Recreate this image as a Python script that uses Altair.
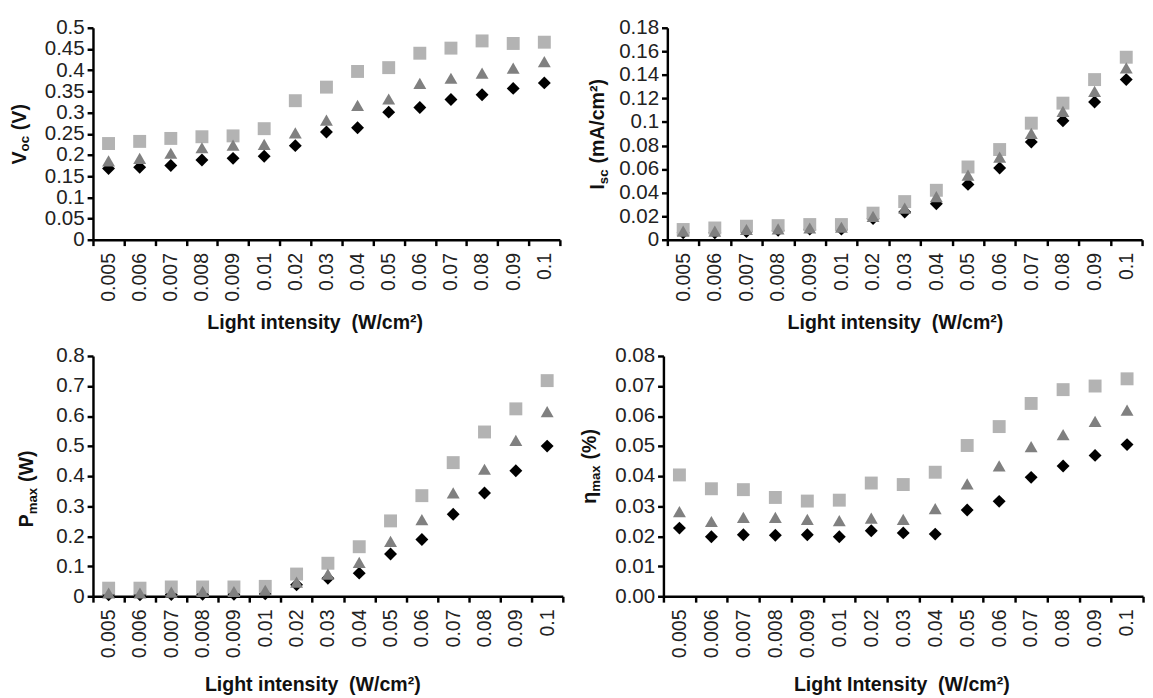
import altair as alt
import pandas as pd

# ---------------- data ----------------
categories = ["0.005", "0.006", "0.007", "0.008", "0.009", "0.01", "0.02", "0.03",
              "0.04", "0.05", "0.06", "0.07", "0.08", "0.09", "0.1"]

voc_square = [0.227, 0.232, 0.239, 0.243, 0.245, 0.262, 0.328, 0.360, 0.397, 0.406,
              0.440, 0.452, 0.469, 0.463, 0.466]
voc_triangle = [0.186, 0.192, 0.204, 0.217, 0.223, 0.225, 0.252, 0.282, 0.317, 0.332,
                0.369, 0.381, 0.393, 0.405, 0.420]
voc_diamond = [0.168, 0.171, 0.175, 0.188, 0.192, 0.197, 0.222, 0.254, 0.264, 0.301,
               0.312, 0.331, 0.342, 0.357, 0.370]

isc_square = [0.0087, 0.010, 0.0115, 0.012, 0.0129, 0.0129, 0.0226, 0.0324, 0.042, 0.0618,
              0.0766, 0.099, 0.116, 0.136, 0.155]
isc_triangle = [0.0073, 0.0073, 0.0087, 0.0092, 0.010, 0.0106, 0.0198, 0.0268, 0.0366, 0.0548,
                0.0702, 0.0903, 0.109, 0.126, 0.146]
isc_diamond = [0.006, 0.006, 0.007, 0.008, 0.009, 0.009, 0.018, 0.0235, 0.0305, 0.047,
               0.061, 0.083, 0.101, 0.117, 0.136]

pmax_square = [0.027, 0.027, 0.031, 0.031, 0.031, 0.033, 0.074, 0.110, 0.165, 0.251,
               0.335, 0.445, 0.547, 0.624, 0.718]
pmax_triangle = [0.011, 0.011, 0.014, 0.016, 0.016, 0.020, 0.047, 0.074, 0.113, 0.183,
                 0.255, 0.344, 0.423, 0.519, 0.615]
pmax_diamond = [0.005, 0.005, 0.006, 0.007, 0.007, 0.008, 0.038, 0.060, 0.077, 0.141,
                0.189, 0.273, 0.344, 0.418, 0.500]

eta_square = [0.0404, 0.0358, 0.0355, 0.0329, 0.0317, 0.0320, 0.0377, 0.0372, 0.0413, 0.0502,
              0.0565, 0.0642, 0.0688, 0.0700, 0.0724]
eta_triangle = [0.0282, 0.0249, 0.0263, 0.0263, 0.0256, 0.0252, 0.0260, 0.0256, 0.0292, 0.0374,
                0.0434, 0.0498, 0.0538, 0.0582, 0.0620]
eta_diamond = [0.0227, 0.0198, 0.0205, 0.0203, 0.0205, 0.0198, 0.0218, 0.0211, 0.0207, 0.0287,
               0.0316, 0.0396, 0.0434, 0.0469, 0.0505]

voc_ticks = [0, 0.05, 0.1, 0.15, 0.2, 0.25, 0.3, 0.35, 0.4, 0.45, 0.5]
isc_ticks = [0, 0.02, 0.04, 0.06, 0.08, 0.1, 0.12, 0.14, 0.16, 0.18]
pmax_ticks = [0, 0.1, 0.2, 0.3, 0.4, 0.5, 0.6, 0.7, 0.8]
eta_ticks = [0, 0.01, 0.02, 0.03, 0.04, 0.05, 0.06, 0.07, 0.08]

series_order = ["diamond", "square", "triangle"]
series_shapes = ["diamond", "square", "triangle-up"]
series_colors = ["#000000", "#b3b3b3", "#808080"]

FONT = "Liberation Sans"

# Arial-bold advance widths (em) used to lay out the rotated y titles
ADV = {'V': 0.667, 'o': 0.611, 'c': 0.556, ' ': 0.278, '(': 0.333,
       ')': 0.333, 'I': 0.278, 's': 0.556, 'm': 0.889, 'A': 0.722, '/': 0.278,
       '\u00b2': 0.333, 'P': 0.667, 'a': 0.556, 'x': 0.556, 'W': 0.944, '%': 0.889,
       '\u03b7': 0.611}


def text_width(s, size):
    return sum(ADV.get(ch, 0.556) for ch in s) * size


def long_df(dia, sq, tri):
    rows = []
    for name, vals in zip(series_order, (dia, sq, tri)):
        for c, v in zip(categories, vals):
            rows.append({"cat": c, "series": name, "value": v})
    return pd.DataFrame(rows)


def panel(df, title_parts, x_title, y_max, y_ticks, y_fmt, width, height,
          title_x, title_cy, title_pad=12, xtitle_dx=0):
    x = alt.X("cat:N", sort=categories,
              scale=alt.Scale(type="band", paddingInner=0, paddingOuter=0),
              axis=alt.Axis(title=x_title, labelAngle=270, tickBand="extent",
                            labelPadding=7, titlePadding=title_pad, labelFontSize=20,
                            titleX=width / 2 + xtitle_dx))
    y = alt.Y("value:Q",
              scale=alt.Scale(domain=[0, y_max], nice=False, zero=True),
              axis=alt.Axis(title=None, values=y_ticks, format=y_fmt,
                            labelPadding=3, labelFontSize=21))
    pts = alt.Chart(df).mark_point(filled=True, size=175, opacity=1,
                                   strokeWidth=0).encode(
        x=x, y=y,
        shape=alt.Shape("series:N",
                        scale=alt.Scale(domain=series_order, range=series_shapes),
                        legend=None),
        color=alt.Color("series:N",
                        scale=alt.Scale(domain=series_order, range=series_colors),
                        legend=None),
    )
    layers = [pts]
    one = pd.DataFrame({"k": [0]})
    total = sum(text_width(t, s) + gap for t, s, _, gap in title_parts)
    y0 = title_cy + total / 2
    cum = 0.0
    for t, s, dx, gap in title_parts:
        layers.append(
            alt.Chart(one).mark_text(text=t, angle=270, align="left",
                                     baseline="alphabetic", font=FONT,
                                     fontSize=s, fontWeight="bold",
                                     color="#111111").encode(
                x=alt.value(title_x + dx), y=alt.value(y0 - cum))
        )
        cum += text_width(t, s) + gap
    return alt.layer(*layers).properties(width=width, height=height)


MAIN = 20
SUB = 13.5
GAP = 6

tl = panel(long_df(voc_diamond, voc_square, voc_triangle),
           [("V", MAIN, 0, 0), ("oc", SUB, 4, GAP), ("(V)", MAIN, 0, 0)],
           "Light intensity\u00a0 (W/cm\u00b2)", 0.5, voc_ticks, ".2~f",
           478, 217, -69, 109, xtitle_dx=-12)
tr = panel(long_df(isc_diamond, isc_square, isc_triangle),
           [("I", MAIN, 0, 0), ("sc", SUB, 4, GAP), ("(mA/cm\u00b2)", MAIN, 0, 0)],
           "Light intensity\u00a0 (W/cm\u00b2)", 0.18, isc_ticks, ".2~f",
           486, 217, -65, 109, xtitle_dx=-10)
bl = panel(long_df(pmax_diamond, pmax_square, pmax_triangle),
           [("P", MAIN, 0, 0), ("max", SUB, 4, GAP), ("(W)", MAIN, 0, 0)],
           "Light intensity\u00a0 (W/cm\u00b2)", 0.8, pmax_ticks, ".1~f",
           481, 246, -61, 136, title_pad=17, xtitle_dx=-16)
br = panel(long_df(eta_diamond, eta_square, eta_triangle),
           [("\u03b7", MAIN, 0, 0), ("max", SUB, 4, GAP), ("(%)", MAIN, 0, 0)],
           "Light Intensity\u00a0 (W/cm\u00b2)", 0.08, eta_ticks, ".2f",
           491, 246, -69, 113, title_pad=17, xtitle_dx=-2)

top = alt.hconcat(tl, tr, spacing=27)
bottom = alt.hconcat(bl, br, spacing=15)

chart = alt.vconcat(top, bottom, spacing=12).properties(
    padding={"left": 2, "top": 1, "right": 0, "bottom": 0}
).configure_view(stroke=None).configure_axis(
    grid=False,
    domainColor="#000000", domainWidth=2.5,
    tickColor="#000000", tickWidth=2.5, tickSize=6,
    labelFont=FONT, labelFontSize=20, labelColor="#222222",
    titleFont=FONT, titleFontSize=20, titleFontWeight="bold", titleColor="#111111",
)

chart.save("out.html", embed_options={"renderer": "svg", "actions": False})
